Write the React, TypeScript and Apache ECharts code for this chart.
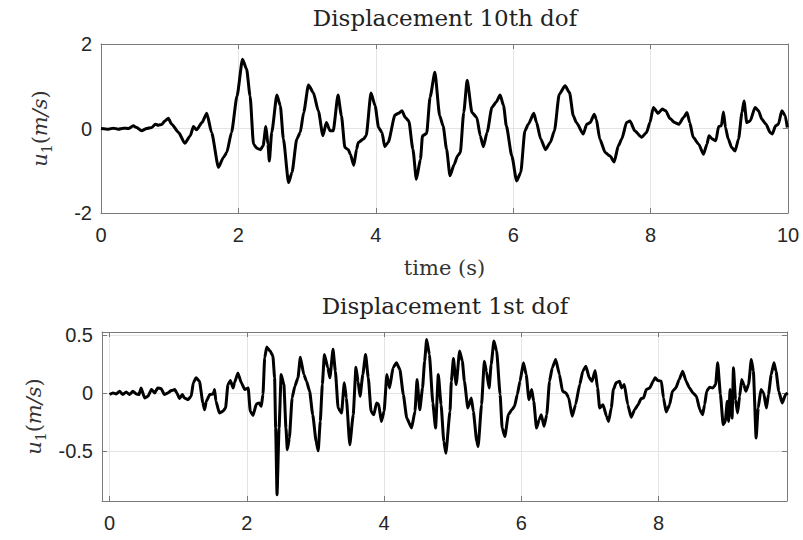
import React, { useEffect, useRef } from "react";
import * as echarts from "echarts";

// Displacement 10th dof (time s, value)
const dof10Time = [0, 0.107, 0.18, 0.25, 0.325, 0.4, 0.47, 0.52, 0.59, 0.665, 0.74, 0.79, 0.835, 0.885, 0.93, 0.98, 1.03, 1.13, 1.22, 1.3, 1.345, 1.39, 1.47, 1.54, 1.61, 1.71, 1.78, 1.83, 1.9, 1.98, 2.06, 2.12, 2.17, 2.22, 2.27, 2.32, 2.36, 2.4, 2.43, 2.45, 2.485, 2.56, 2.61, 2.655, 2.73, 2.78, 2.85, 2.9, 2.95, 3.02, 3.09, 3.165, 3.23, 3.28, 3.335, 3.38, 3.45, 3.5, 3.55, 3.6, 3.63, 3.68, 3.72, 3.745, 3.82, 3.86, 3.93, 3.99, 4.04, 4.09, 4.13, 4.18, 4.28, 4.33, 4.38, 4.43, 4.48, 4.54, 4.59, 4.65, 4.68, 4.74, 4.79, 4.86, 4.93, 4.98, 5.03, 5.08, 5.14, 5.19, 5.23, 5.28, 5.33, 5.4, 5.47, 5.52, 5.565, 5.62, 5.69, 5.75, 5.81, 5.86, 5.9, 5.98, 6.05, 6.11, 6.17, 6.22, 6.3, 6.34, 6.4, 6.47, 6.54, 6.6, 6.67, 6.755, 6.82, 6.875, 6.92, 7.02, 7.07, 7.12, 7.18, 7.21, 7.26, 7.34, 7.41, 7.47, 7.53, 7.58, 7.65, 7.7, 7.77, 7.87, 7.94, 7.99, 8.04, 8.11, 8.17, 8.22, 8.28, 8.35, 8.41, 8.48, 8.53, 8.57, 8.62, 8.7, 8.77, 8.82, 8.85, 8.9, 8.95, 8.99, 9.03, 9.06, 9.09, 9.13, 9.18, 9.23, 9.28, 9.33, 9.36, 9.4, 9.45, 9.52, 9.57, 9.62, 9.68, 9.74, 9.77, 9.82, 9.86, 9.91, 9.96, 9.99];
const dof10Disp = [0, -0.016, 0.008, -0.016, 0.008, 0, 0.063, 0.024, -0.055, 0, 0.024, 0.1, 0.079, 0.095, 0.18, 0.24, 0.1, -0.095, -0.35, -0.17, 0.047, -0.03, 0.14, 0.36, -0.095, -0.92, -0.69, -0.57, -0.095, 0.77, 1.64, 1.4, 0.77, -0.37, -0.47, -0.5, -0.41, 0.047, -0.37, -0.77, -0.095, 0.79, 0.54, -0.25, -1.28, -1.04, -0.25, -0.095, 0.38, 1.03, 0.85, 0.41, -0.17, 0.14, -0.055, -0.055, 0.79, 0.3, -0.45, -0.5, -0.61, -0.87, -0.49, -0.33, -0.25, -0.17, 0.84, 0.54, 0.024, -0.095, -0.43, -0.33, 0.32, 0.36, 0.42, 0.26, 0.18, -0.49, -1.2, -0.73, -0.17, -0.12, 0.74, 1.33, 0.3, 0.06, -0.49, -1.12, -0.85, -0.65, -0.57, 0.38, 1.14, 0.38, 0.26, -0.17, -0.43, -0.095, 0.5, 0.62, 0.79, 0.54, 0.063, -0.65, -1.24, -1.04, -0.055, 0.1, 0.36, 0.14, -0.25, -0.5, -0.33, -0.055, 0.81, 1.01, 0.85, 0.3, 0.14, -0.13, 0.1, 0.14, 0.34, 0.22, -0.25, -0.57, -0.65, -0.79, -0.41, -0.25, 0.14, 0.18, -0.055, -0.21, -0.095, 0.14, 0.5, 0.36, 0.46, 0.42, 0.24, 0.14, 0.1, 0.26, 0.38, 0.14, -0.21, -0.37, -0.61, -0.37, -0.17, -0.25, -0.29, 0.047, 0.063, 0.39, 0.024, -0.25, -0.45, -0.53, -0.25, 0.38, 0.65, 0.14, 0.18, 0.5, 0.42, 0.22, 0.1, -0.095, -0.13, 0.063, 0.1, 0.42, 0.3, 0.024];

// Displacement 1st dof (time s, value)
const dof1Time = [0, 0.049, 0.097, 0.146, 0.194, 0.243, 0.29, 0.34, 0.39, 0.43, 0.46, 0.51, 0.56, 0.61, 0.66, 0.7, 0.75, 0.8, 0.85, 0.9, 0.95, 0.98, 1.02, 1.06, 1.09, 1.14, 1.19, 1.22, 1.26, 1.31, 1.36, 1.385, 1.41, 1.46, 1.51, 1.53, 1.55, 1.6, 1.65, 1.69, 1.725, 1.76, 1.8, 1.82, 1.87, 1.92, 1.97, 2.02, 2.05, 2.09, 2.14, 2.18, 2.21, 2.235, 2.26, 2.29, 2.34, 2.38, 2.405, 2.42, 2.44, 2.47, 2.5, 2.54, 2.57, 2.59, 2.62, 2.66, 2.7, 2.745, 2.78, 2.83, 2.87, 2.915, 2.96, 3.01, 3.04, 3.07, 3.1, 3.13, 3.18, 3.21, 3.256, 3.29, 3.33, 3.38, 3.42, 3.45, 3.5, 3.55, 3.59, 3.62, 3.65, 3.69, 3.73, 3.77, 3.81, 3.85, 3.89, 3.92, 3.96, 4.0, 4.04, 4.08, 4.13, 4.18, 4.23, 4.28, 4.33, 4.4, 4.45, 4.48, 4.52, 4.56, 4.59, 4.62, 4.66, 4.71, 4.75, 4.79, 4.83, 4.87, 4.9, 4.96, 4.98, 5.01, 5.05, 5.1, 5.14, 5.17, 5.22, 5.27, 5.3, 5.35, 5.37, 5.42, 5.46, 5.49, 5.53, 5.56, 5.6, 5.64, 5.69, 5.72, 5.76, 5.81, 5.86, 5.9, 5.94, 5.98, 6.03, 6.07, 6.11, 6.15, 6.18, 6.22, 6.26, 6.29, 6.33, 6.37, 6.41, 6.45, 6.5, 6.555, 6.6, 6.65, 6.69, 6.74, 6.79, 6.85, 6.895, 6.94, 6.99, 7.03, 7.075, 7.11, 7.14, 7.19, 7.24, 7.27, 7.31, 7.34, 7.38, 7.43, 7.46, 7.5, 7.55, 7.6, 7.65, 7.7, 7.745, 7.78, 7.82, 7.87, 7.92, 7.95, 7.99, 8.04, 8.07, 8.11, 8.16, 8.2, 8.25, 8.3, 8.35, 8.4, 8.45, 8.5, 8.55, 8.6, 8.64, 8.67, 8.7, 8.74, 8.79, 8.83, 8.86, 8.9, 8.94, 8.97, 9.0, 9.02, 9.04, 9.07, 9.09, 9.12, 9.15, 9.18, 9.21, 9.24, 9.27, 9.31, 9.35, 9.38, 9.42, 9.45, 9.49, 9.53, 9.57, 9.6, 9.64, 9.68, 9.71, 9.75, 9.8, 9.85, 9.88];
const dof1Disp = [-0.014, 0, -0.009, 0.014, -0.014, 0.009, -0.014, 0.014, -0.009, -0.014, 0.043, -0.043, -0.029, 0.029, 0, 0.043, 0.038, -0.014, 0, 0.02, 0.029, 0, -0.049, -0.014, -0.043, -0.058, -0.029, 0.087, 0.13, 0.101, -0.087, -0.145, -0.072, -0.014, -0.009, 0.029, -0.072, -0.173, -0.159, -0.13, 0.072, 0.107, 0.043, 0.087, 0.173, 0.087, 0.029, 0.043, -0.159, -0.194, -0.095, -0.087, -0.116, -0.014, 0.303, 0.396, 0.361, 0.318, 0.13, -0.303, -0.88, -0.303, 0.159, 0.072, -0.303, -0.49, -0.39, -0.043, 0.058, 0.13, 0.309, 0.159, 0.101, 0.014, -0.188, -0.42, -0.5, -0.246, 0.072, 0.332, 0.217, 0.13, 0.376, 0.188, -0.13, -0.173, 0.087, -0.043, -0.448, -0.188, 0.222, 0.101, -0.029, 0.159, 0.332, 0.13, -0.159, -0.188, -0.087, -0.095, -0.246, -0.159, 0.159, 0.043, 0.217, 0.26, 0.202, -0.014, -0.217, -0.303, -0.159, 0.116, -0.145, 0.043, 0.274, 0.462, 0.332, -0.087, -0.303, 0.159, -0.101, -0.419, -0.52, -0.159, 0.101, 0.297, 0.072, 0.361, 0.274, 0.101, -0.13, -0.043, -0.159, -0.419, -0.462, -0.101, 0.274, 0.188, 0.043, 0.246, 0.448, 0.361, -0.014, -0.303, -0.376, -0.188, -0.145, -0.116, -0.014, 0.101, 0.26, 0.159, -0.058, 0.029, -0.072, -0.303, -0.231, -0.188, -0.289, -0.188, 0.101, 0.217, 0.289, 0.159, 0.014, 0, -0.043, -0.202, -0.101, 0.072, 0.188, 0.231, 0.13, 0.101, 0.194, 0.043, -0.13, -0.101, -0.202, -0.246, -0.13, 0.029, 0.087, 0.101, 0.043, 0.072, -0.101, -0.211, -0.145, -0.101, -0.049, -0.043, 0.029, 0.043, 0.101, 0.13, 0.107, 0.101, -0.043, -0.164, -0.101, 0.014, 0.043, 0.116, 0.188, 0.101, 0.043, 0, -0.029, -0.145, -0.188, -0.101, 0.014, 0.049, 0.043, 0.072, 0.26, -0.014, -0.274, -0.246, -0.072, -0.246, 0.029, -0.217, 0.217, -0.058, -0.173, -0.029, 0.116, 0.072, 0.014, 0.072, 0.289, 0.188, -0.39, -0.13, 0.029, 0, -0.13, -0.014, 0.159, 0.26, 0.188, 0.014, -0.087, -0.014, 0];

const titles = ["Displacement 10th dof", "Displacement 1st dof"];
const xName = "time (s)";
const topXTicks = [0, 2, 4, 6, 8, 10];
const topYTicks = [-2, 0, 2];
const botXTicks = [0, 2, 4, 6, 8];
const botYTicks = [-0.5, 0, 0.5];

const AXIS_COLOR = "#7a7a7a";
const GRID_COLOR = "#e4e4e4";
const LABEL_COLOR = "#262626";
const SANS = "Liberation Sans, Arial, sans-serif";
const SERIF = "DejaVu Serif, serif";

const yName = "{u|u}{s|1}{p|(}{u|m/s}{p|)}";
const yNameRich = {
  u: { fontFamily: SERIF, fontStyle: "italic", fontSize: 21, color: "#333", lineHeight: 28, verticalAlign: "middle" },
  s: { fontFamily: SERIF, fontSize: 14, color: "#333", lineHeight: 28, verticalAlign: "bottom" },
  p: { fontFamily: SERIF, fontSize: 21, color: "#333", lineHeight: 28, verticalAlign: "middle" },
};

function mainX(gridIndex: number, min: number, max: number, ticks: number[], withName: boolean) {
  return {
    type: "value",
    gridIndex,
    position: "bottom",
    min,
    max,
    name: withName ? xName : "",
    nameLocation: "middle",
    nameGap: 44,
    nameTextStyle: { fontFamily: SERIF, fontSize: 21, color: "#333" },
    axisLine: { show: true, onZero: false, lineStyle: { color: AXIS_COLOR, width: 1 } },
    axisTick: { show: true, inside: true, length: 5, customValues: ticks, lineStyle: { color: AXIS_COLOR } },
    axisLabel: { show: true, customValues: ticks, margin: 12, fontFamily: SANS, fontSize: 20, color: LABEL_COLOR, showMinLabel: true, showMaxLabel: true },
    splitLine: { show: true, lineStyle: { color: GRID_COLOR, width: 1 } },
  };
}
function sideX(gridIndex: number, min: number, max: number, ticks: number[]) {
  return {
    type: "value",
    gridIndex,
    position: "top",
    min,
    max,
    axisLine: { show: true, onZero: false, lineStyle: { color: AXIS_COLOR, width: 1 } },
    axisTick: { show: true, inside: true, length: 5, customValues: ticks, lineStyle: { color: AXIS_COLOR } },
    axisLabel: { show: false },
    splitLine: { show: false },
  };
}
function mainY(gridIndex: number, min: number, max: number, ticks: number[]) {
  return {
    type: "value",
    gridIndex,
    position: "left",
    min,
    max,
    name: yName,
    nameLocation: "middle",
    nameRotate: 90,
    nameGap: 47,
    nameTextStyle: { rich: yNameRich },
    axisLine: { show: true, onZero: false, lineStyle: { color: AXIS_COLOR, width: 1 } },
    axisTick: { show: true, inside: true, length: 5, customValues: ticks, lineStyle: { color: AXIS_COLOR } },
    axisLabel: { show: true, customValues: ticks, margin: 9, fontFamily: SANS, fontSize: 20, color: LABEL_COLOR, showMinLabel: true, showMaxLabel: true },
    splitLine: { show: true, lineStyle: { color: GRID_COLOR, width: 1 } },
  };
}
function sideY(gridIndex: number, min: number, max: number, ticks: number[]) {
  return {
    type: "value",
    gridIndex,
    position: "right",
    min,
    max,
    axisLine: { show: true, onZero: false, lineStyle: { color: AXIS_COLOR, width: 1 } },
    axisTick: { show: true, inside: true, length: 5, customValues: ticks, lineStyle: { color: AXIS_COLOR } },
    axisLabel: { show: false },
    splitLine: { show: false },
  };
}

export default function App() {
  const ref = useRef<HTMLDivElement>(null);
  useEffect(() => {
    if (!ref.current) return;
    const chart = echarts.init(ref.current, undefined, { renderer: "svg" });
    const topData = dof10Time.map((t, i) => [t, dof10Disp[i]]);
    const botData = dof1Time.map((t, i) => [t, dof1Disp[i]]);
    const TOP_X = [0, 10];
    const TOP_Y = [-2, 2];
    const BOT_X = [-0.11, 9.87];
    const BOT_Y = [-0.933, 0.526];
    chart.setOption({
      animation: false,
      backgroundColor: "#ffffff",
      grid: [
        { left: 101, top: 44, width: 687, height: 169, containLabel: false },
        { left: 102, top: 332, width: 685, height: 169, containLabel: false },
      ],
      xAxis: [
        mainX(0, TOP_X[0], TOP_X[1], topXTicks, true),
        mainX(1, BOT_X[0], BOT_X[1], botXTicks, false),
        sideX(0, TOP_X[0], TOP_X[1], topXTicks),
        sideX(1, BOT_X[0], BOT_X[1], botXTicks),
      ],
      yAxis: [
        mainY(0, TOP_Y[0], TOP_Y[1], topYTicks),
        mainY(1, BOT_Y[0], BOT_Y[1], botYTicks),
        sideY(0, TOP_Y[0], TOP_Y[1], topYTicks),
        sideY(1, BOT_Y[0], BOT_Y[1], botYTicks),
      ],
      graphic: [
        { type: "text", x: 445, y: 18, style: { text: titles[0], fontFamily: SERIF, fontSize: 23, fill: "#222", align: "center", verticalAlign: "middle" } },
        { type: "text", x: 445, y: 306, style: { text: titles[1], fontFamily: SERIF, fontSize: 23, fill: "#222", align: "center", verticalAlign: "middle" } },
      ],
      series: [
        { type: "line", xAxisIndex: 0, yAxisIndex: 0, data: topData, showSymbol: false, symbol: "none", smooth: 0.2, smoothMonotone: "x", lineStyle: { color: "#000", width: 3, join: "round" }, clip: true },
        { type: "line", xAxisIndex: 1, yAxisIndex: 1, data: botData, showSymbol: false, symbol: "none", smooth: 0.15, smoothMonotone: "x", lineStyle: { color: "#000", width: 3, join: "round" }, clip: true },
      ],
    });
    return () => chart.dispose();
  }, []);
  return <div ref={ref} style={{ position: "absolute", left: 0, top: 0, width: 803, height: 540 }} />;
}
